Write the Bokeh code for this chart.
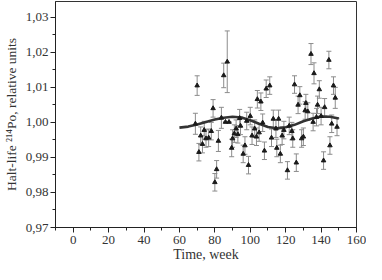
from bokeh.plotting import figure
from bokeh.models import ColumnDataSource, Whisker, FixedTicker, CustomJSTickFormatter, Range1d, TeeHead
from bokeh.embed import file_html
from bokeh.resources import INLINE

# measured points: week, half-life (relative), error
weeks = [69, 70, 71, 72, 73, 74, 75, 76.5, 78, 79, 80, 81, 82, 83.7, 85, 86, 87, 88,
         89.5, 90, 91, 92, 93, 94, 94.5, 96, 97, 98, 99, 100, 101, 102.5, 103.5, 104,
         105, 106, 107, 108, 109, 111, 112, 113, 114.5, 115, 116, 117, 118, 119, 121,
         122, 123.5, 124, 125, 126, 127, 128, 129, 130, 131, 131.4, 132.5, 134.3, 135.5,
         136, 137.4, 138, 139, 140, 141.4, 142, 144.4, 145, 146, 147, 148, 149]
values = [0.9996, 1.0105, 0.9915, 0.9962, 0.9938, 0.9978, 0.9954, 0.9956, 0.9975, 1.0040,
          0.9829, 0.9866, 0.9947, 1.0013, 1.0134, 1.0001, 1.0173, 1.0001,
          0.9927, 0.9954, 0.9968, 0.9982, 0.9966, 1.0012, 0.9990, 0.9910, 0.9934, 1.0004,
          0.9878, 1.0018, 0.9962, 0.9982, 0.9959, 1.0066,
          0.9971, 1.0059, 0.9999, 0.9919, 1.0096, 1.0105, 0.9956, 1.0010, 0.9982, 0.9927,
          1.0010, 0.9910, 0.9962, 0.9978, 0.9863,
          0.9990, 0.9975, 0.9954, 1.0108, 0.9885, 1.0050, 1.0077, 0.9954, 0.9959, 1.0034,
          1.0055, 1.0031, 1.0195, 1.0001,
          1.0140, 1.0015, 1.0050, 1.0094, 1.0018, 0.9891, 1.0043, 1.0178, 0.9934, 0.9996,
          1.0105, 1.0070, 0.9987]
errors = [0.0030, 0.0028, 0.0025, 0.0025, 0.0025, 0.0025, 0.0025, 0.0025, 0.0025, 0.0025,
          0.0025, 0.0025, 0.0030, 0.0030, 0.0035, 0.0, 0.0088, 0.0,
          0.0025, 0.0025, 0.0025, 0.0025, 0.0025, 0.0025, 0.0025, 0.0025, 0.0025, 0.0025,
          0.0025, 0.0025, 0.0025, 0.0025, 0.0025, 0.0025,
          0.0025, 0.0025, 0.0025, 0.0025, 0.0025, 0.0025, 0.0025, 0.0025, 0.0025, 0.0025,
          0.0025, 0.0025, 0.0025, 0.0025, 0.0025,
          0.0025, 0.0025, 0.0025, 0.0025, 0.0025, 0.0025, 0.0025, 0.0025, 0.0025, 0.0025,
          0.0025, 0.0025, 0.0030, 0.0025,
          0.0030, 0.0025, 0.0025, 0.0025, 0.0025, 0.0025, 0.0025, 0.0025, 0.0025, 0.0025,
          0.0025, 0.0030, 0.0025]

# fitted curve
curve_weeks = [60, 65, 70, 75, 80, 85, 90, 95, 100, 105, 110, 115, 120, 125, 130, 135, 140, 145, 150]
curve_values = [0.9985, 0.9988, 0.9994, 1.0001, 1.0008, 1.0013, 1.0016, 1.0014, 1.0006, 0.9996,
                0.9987, 0.9983, 0.9986, 0.9993, 1.0003, 1.0011, 1.0017, 1.0016, 1.0011]

x_ticks = [0, 20, 40, 60, 80, 100, 120, 140, 160]
x_minor = [-10, 0, 10, 20, 30, 40, 50, 60, 70, 80, 90, 100, 110, 120, 130, 140, 150, 160]
y_ticks = [0.97, 0.98, 0.99, 1.00, 1.01, 1.02, 1.03]
y_minor = [0.97, 0.975, 0.98, 0.985, 0.99, 0.995, 1.00, 1.005, 1.01, 1.015, 1.02, 1.025, 1.03]
x_title = "Time, week"
y_title = "Halt-life \u00b2\u00b9\u2074Po, relative units"

FONT = "Liberation Serif"

src = ColumnDataSource(dict(
    x=weeks, y=values,
    lo=[v - e for v, e in zip(values, errors)],
    hi=[v + e for v, e in zip(values, errors)],
))

p = figure(width=366, height=264, output_backend="svg", toolbar_location=None,
           x_range=Range1d(-10, 160), y_range=Range1d(0.97, 1.0345),
           min_border_left=46, min_border_right=10, min_border_top=1, min_border_bottom=36)
p.background_fill_color = "white"
p.border_fill_color = "white"
p.outline_line_color = "#333333"
p.outline_line_width = 1
p.grid.visible = False

w = Whisker(source=src, base="x", lower="lo", upper="hi", line_color="#8c8c8c", line_width=1,
            upper_head=TeeHead(size=5, line_color="#8c8c8c", line_width=1),
            lower_head=TeeHead(size=5, line_color="#8c8c8c", line_width=1))
p.add_layout(w)

p.line(curve_weeks, curve_values, line_color="#333333", line_width=2.6)
p.scatter("x", "y", source=src, marker="triangle", size=4.5, fill_color="#1a1a1a",
          line_color="#1a1a1a")

for ax in (p.xaxis[0], p.yaxis[0]):
    ax.axis_line_color = "#222222"
    ax.major_tick_line_color = "#222222"
    ax.minor_tick_line_color = "#222222"
    ax.major_tick_out = 5
    ax.major_tick_in = 0
    ax.minor_tick_out = 3
    ax.minor_tick_in = 0
    ax.major_label_text_font = FONT
    ax.major_label_text_font_size = "13px"
    ax.major_label_text_color = "#333333"
    ax.axis_label_text_font = FONT
    ax.axis_label_text_font_style = "normal"
    ax.axis_label_text_color = "#333333"

p.xaxis.axis_label_text_font_size = "14px"
p.yaxis.axis_label_text_font_size = "13.5px"
p.xaxis.ticker = FixedTicker(ticks=x_ticks, minor_ticks=x_minor)
p.yaxis.ticker = FixedTicker(ticks=y_ticks, minor_ticks=y_minor)
p.yaxis.formatter = CustomJSTickFormatter(code="return tick.toFixed(2).replace('.', ',');")
p.xaxis.major_label_standoff = 3
p.yaxis.major_label_standoff = 2
p.xaxis.axis_label = x_title
p.yaxis.axis_label = y_title
p.xaxis.axis_label_standoff = 0
p.yaxis.axis_label_standoff = 4

open("out.html", "w").write(file_html(p, INLINE))
